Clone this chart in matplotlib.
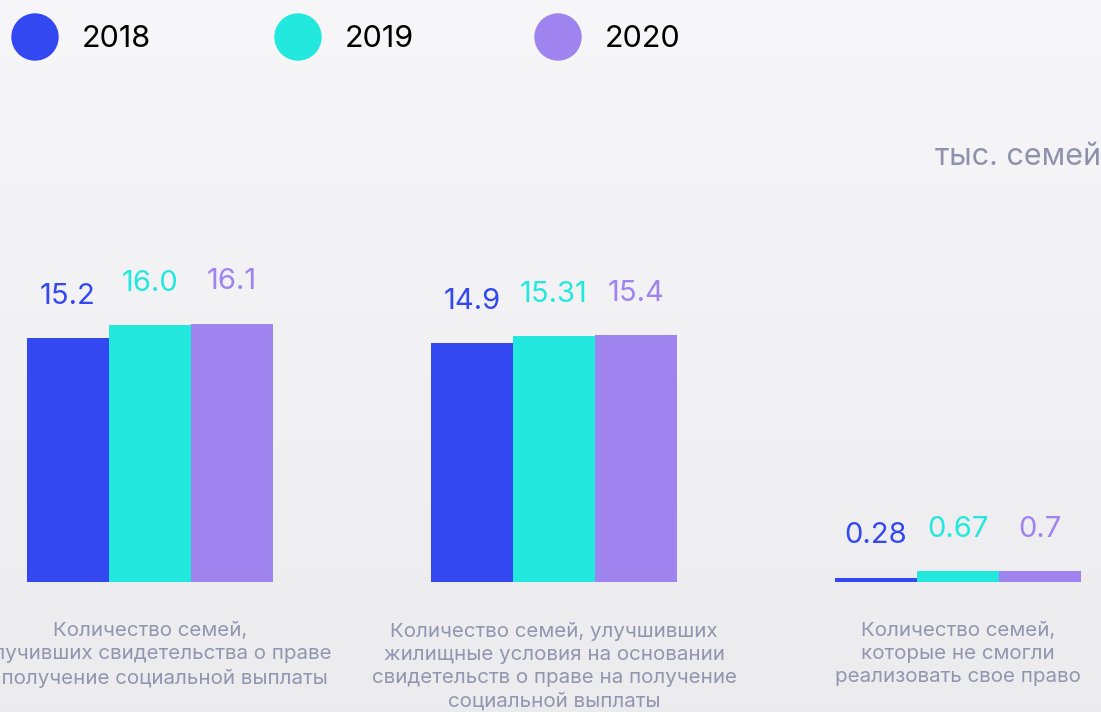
import numpy as np
import matplotlib.pyplot as plt
from matplotlib.patches import Ellipse

# data
years = ['2018', '2019', '2020']
categories = [
    'Количество семей,\nполучивших свидетельства о праве\nна получение социальной выплаты',
    'Количество семей, улучшивших\nжилищные условия на основании\nсвидетельств о праве на получение\nсоциальной выплаты',
    'Количество семей,\nкоторые не смогли\nреализовать свое право',
]
values_2018 = [15.2, 14.9, 0.28]
values_2019 = [16.0, 15.31, 0.67]
values_2020 = [16.1, 15.4, 0.7]
labels_2018 = ['15.2', '14.9', '0.28']
labels_2019 = ['16.0', '15.31', '0.67']
labels_2020 = ['16.1', '15.4', '0.7']
unit = 'тыс. семей'

colors = ['#3448f2', '#22e8de', '#9f84ef']
label_gray = '#9196ae'

plt.rcParams['font.family'] = ['Inter', 'DejaVu Sans']

W, H = 1101, 712
fig = plt.figure(figsize=(W / 100, H / 100), dpi=100)

# background gradient
bg = fig.add_axes([0, 0, 1, 1], zorder=-10)
grad = np.linspace(0, 1, 256).reshape(-1, 1)
top = np.array([0.968, 0.968, 0.976])
bot = np.array([0.925, 0.925, 0.937])
img = top[None, None, :] * (1 - grad[:, :, None]) + bot[None, None, :] * grad[:, :, None]
bg.imshow(img, aspect='auto', extent=[0, 1, 0, 1])
bg.axis('off')

# main axes: group spacing 404px, baseline 130px from bottom
px_per_group = 404
px_per_unit = 16.05
base = 130
ax = fig.add_axes([0, base / H, 1, (H - base) / H])
ax.patch.set_alpha(0)
ax.set_xlim(-150 / px_per_group, (W - 150) / px_per_group)
ax.set_ylim(0, (H - base) / px_per_unit)
ax.axis('off')

x = np.arange(len(categories))
bw = 82 / px_per_group
series = [values_2018, values_2019, values_2020]
series_labels = [labels_2018, labels_2019, labels_2020]
for i, (vals, labs) in enumerate(zip(series, series_labels)):
    xs = x + (i - 1) * bw
    ax.bar(xs, vals, width=bw, color=colors[i], linewidth=0)
    for xx, v, lab in zip(xs, vals, labs):
        ax.annotate(lab, (xx, v), xytext=(0, 30), textcoords='offset points',
                    ha='center', va='center', fontsize=21, color=colors[i])

for xx, cat in zip(x, categories):
    ax.annotate(cat, (xx, 0), xytext=(0, -29), textcoords='offset points',
                ha='center', va='top', fontsize=14.8, color=label_gray,
                linespacing=1.36, annotation_clip=False)

# legend with circles
leg_x = [35, 298, 558]
for cx, c, yr in zip(leg_x, colors, years):
    fig.patches.append(Ellipse((cx / W, 1 - 37 / H), 46 / W, 46 / H,
                               transform=fig.transFigure, color=c))
    fig.text((cx + 47) / W, 1 - 39 / H, yr, fontsize=22, color='black',
             ha='left', va='center')

fig.text(1101 / W, 1 - 157 / H, unit, fontsize=22, color='#8e93ab',
         ha='right', va='center')

fig.savefig('out.png', dpi=100)
